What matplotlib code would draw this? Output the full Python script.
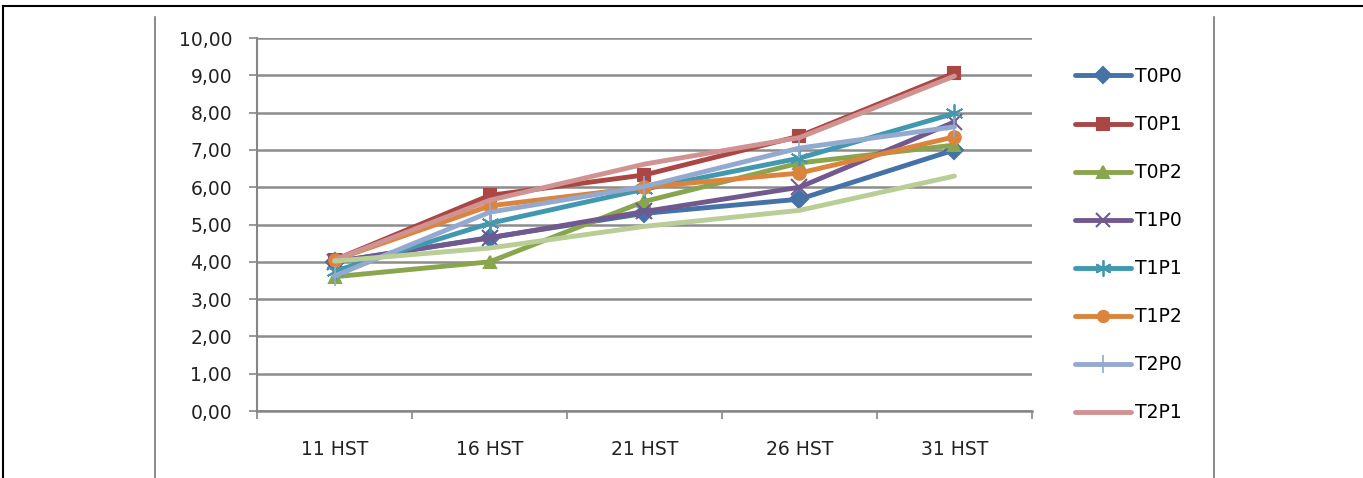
import numpy as np
import matplotlib.pyplot as plt
from matplotlib.lines import Line2D
from matplotlib.ticker import FuncFormatter

plt.rcParams['font.family'] = ['DejaVu Sans']

# data
days = ['11 HST', '16 HST', '21 HST', '26 HST', '31 HST']
T0P0 = [4.00, 4.65, 5.30, 5.68, 7.00]
T0P1 = [4.05, 5.78, 6.33, 7.37, 9.06]
T0P2 = [3.60, 4.00, 5.62, 6.65, 7.13]
T1P0 = [4.00, 4.64, 5.35, 6.00, 7.75]
T1P1 = [3.75, 5.03, 5.95, 6.78, 7.98]
T1P2 = [4.05, 5.50, 6.00, 6.38, 7.35]
T2P0 = [3.62, 5.33, 6.02, 7.05, 7.62]
T2P1 = [4.05, 5.65, 6.62, 7.33, 8.98]
T2P2 = [4.02, 4.37, 4.95, 5.38, 6.30]

series = [
    ('T0P0', T0P0, '#4572A7', 'D'),
    ('T0P1', T0P1, '#AA4643', 's'),
    ('T0P2', T0P2, '#89A54E', '^'),
    ('T1P0', T1P0, '#71588F', 'x'),
    ('T1P1', T1P1, '#4198AF', (6, 2, 0)),
    ('T1P2', T1P2, '#DB843D', 'o'),
    ('T2P0', T2P0, '#93A9CF', '|'),
    ('T2P1', T2P1, '#D19392', None),
    ('T2P2', T2P2, '#B9CD96', None),
]

fig = plt.figure(figsize=(13.63, 4.78), dpi=100)
ax = fig.add_axes([0.1886, 0.140, 0.5685, 0.7805])

x = np.arange(len(days))
handles = []
for name, vals, col, mk in series:
    ms = 9
    mew = 1.5
    if mk == 'x':
        ms = 11
    if mk == (6, 2, 0):
        ms = 13
        mew = 1.3
    if mk == '|':
        ms = 14
        mew = 1.2
    ln, = ax.plot(x, vals, color=col, lw=3.5, marker=mk, markersize=ms,
                  markeredgewidth=mew, markeredgecolor=col, markerfacecolor=col,
                  solid_capstyle='round', label=name, zorder=3)
    if name != 'T2P2':
        handles.append(ln)

ax.set_xlim(-0.5, 4.5)
ax.set_ylim(0, 10)
ax.set_yticks(np.arange(0, 11, 1))
ax.yaxis.set_major_formatter(FuncFormatter(lambda v, p: f'{v:.2f}'.replace('.', ',')))
ax.set_xticks(x)
ax.set_xticklabels(days)
ax.set_xticks(np.arange(-0.5, 5, 1), minor=True)
ax.tick_params(axis='x', which='major', length=0, pad=21, labelsize=13.5, colors='#222222')
ax.tick_params(axis='x', which='minor', length=6, width=1.2, color='#868686')
ax.tick_params(axis='y', length=6, width=1.2, color='#868686', labelsize=13.5,
               labelcolor='#222222', pad=12)

ax.grid(axis='y', color='#8c8c8c', lw=1.8)
ax.set_axisbelow(True)
for s in ['top', 'right']:
    ax.spines[s].set_visible(False)
ax.spines['left'].set_color('#868686')
ax.spines['bottom'].set_color('#868686')
ax.spines['left'].set_linewidth(1.5)
ax.spines['bottom'].set_linewidth(1.8)

fig.legend(handles=handles, labels=[h.get_label() for h in handles],
           loc='upper left', bbox_to_anchor=(0.783, 0.8755), frameon=False,
           fontsize=13.5, handlelength=3.0, handletextpad=0.2, labelspacing=1.55,
           markerscale=0.9, borderaxespad=0)

# frame lines of the original document
fig.add_artist(Line2D([0.002, 1.0], [0.987, 0.987], color='black', lw=1.5))
fig.add_artist(Line2D([0.002, 0.002], [0.0, 0.987], color='black', lw=1.5))
fig.add_artist(Line2D([0.1137, 0.1137], [0.0, 0.965], color='#777777', lw=1.2))
fig.add_artist(Line2D([0.8905, 0.8905], [0.0, 0.965], color='#777777', lw=1.2))

fig.savefig('out.png', dpi=100)
